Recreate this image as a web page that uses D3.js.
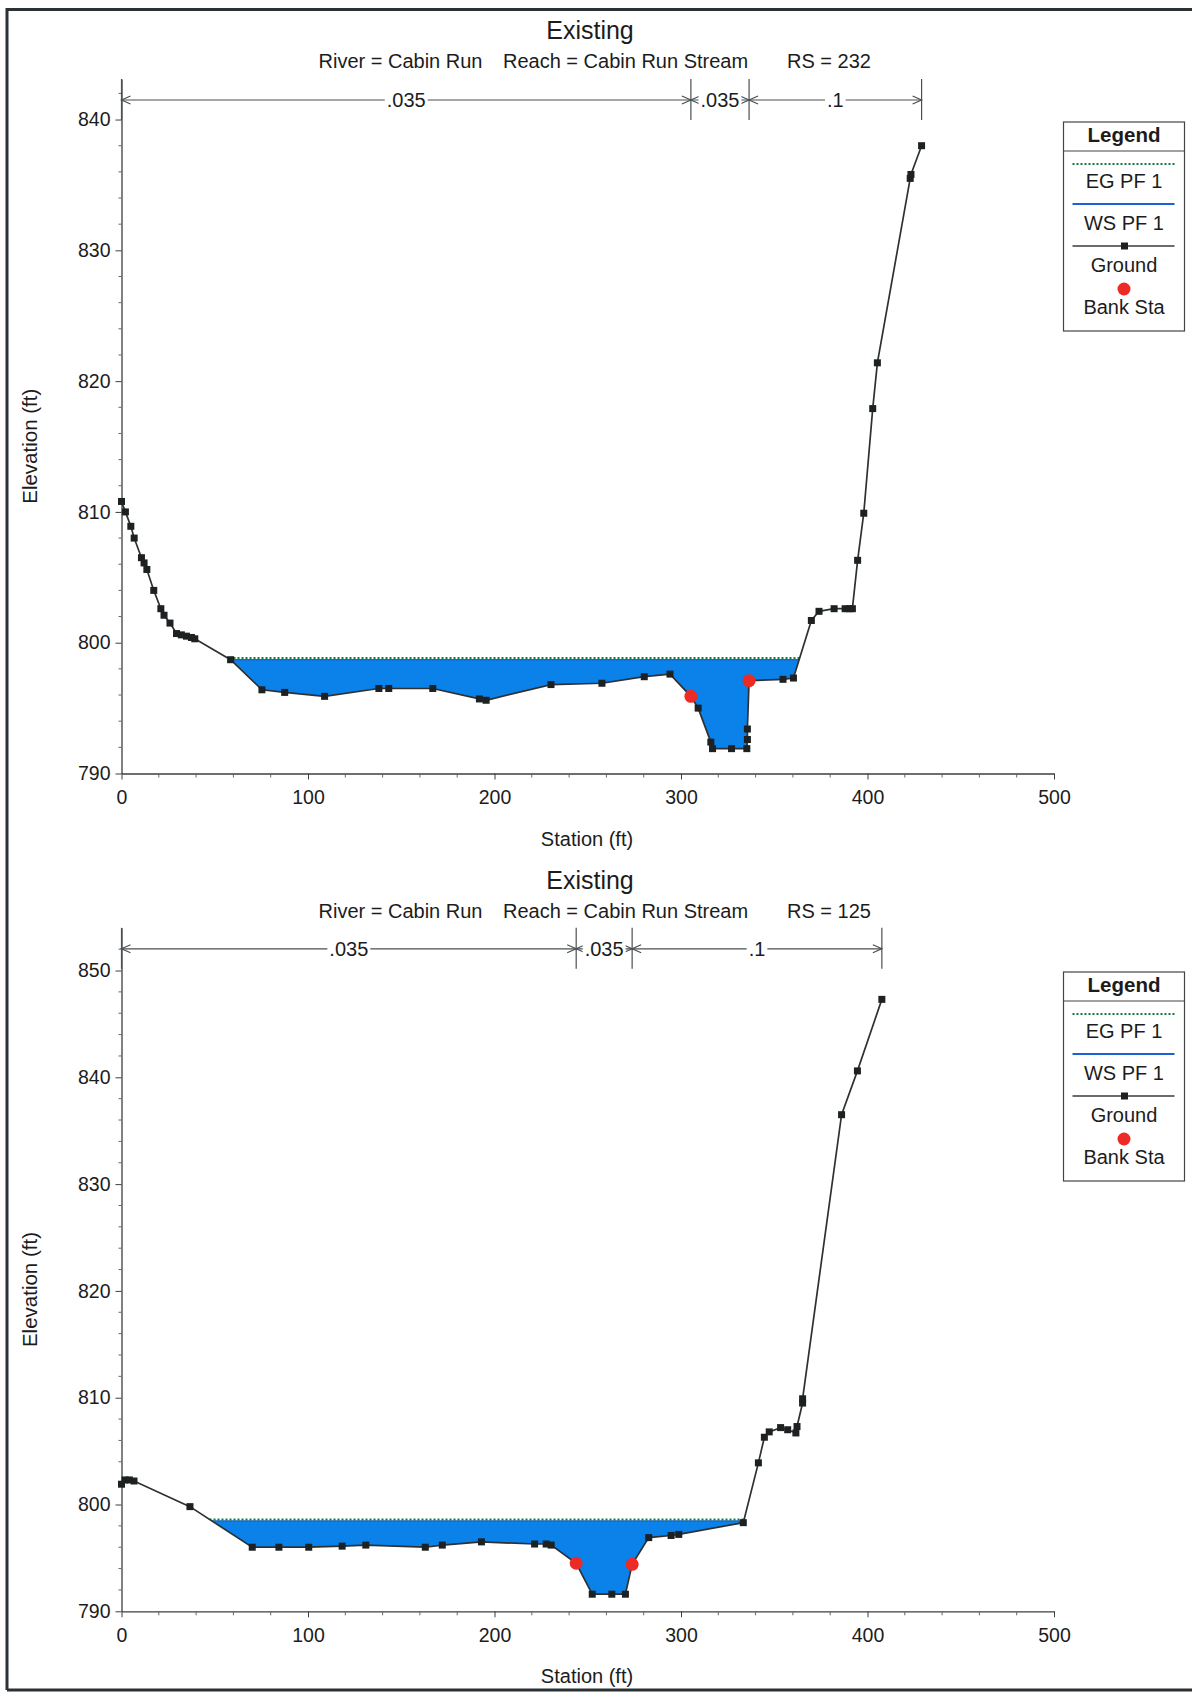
<!DOCTYPE html>
<html>
<head>
<meta charset="utf-8">
<script src="https://cdn.jsdelivr.net/npm/d3@7"></script>
<style>
  body { margin: 0; background: #fff; }
  text { font-family: "Liberation Sans", Arial, Helvetica, sans-serif; fill: #1c1c1c; }
</style>
</head>
<body>
<svg id="chart" width="1192" height="1693"></svg>
<script>
const titleText = "Existing"
const riverText = "River = Cabin Run"
const reachText = "Reach = Cabin Run Stream"
const rsLabels = ["RS = 232", "RS = 125"]

const xTicks = [0, 100, 200, 300, 400, 500]
const topYTicks = [790, 800, 810, 820, 830, 840]
const bottomYTicks = [790, 800, 810, 820, 830, 840, 850]

const nLabels = [".035", ".035", ".1"]
const legendLabels = ["EG PF 1", "WS PF 1", "Ground", "Bank Sta"]

// RS = 232
const topStation = [0, 2.1, 5.0, 6.8, 10.7, 12.1, 13.6, 17.3, 21.1, 22.8, 26.0, 29.5, 32.1, 34.8, 37.5,
  39.3, 58.5, 75.3, 87.5, 108.9, 138.0, 143.3, 166.9, 191.9, 195.5, 230.3, 257.6, 280.3, 294.1, 305.3,
  309.2, 316.0, 316.9, 327.1, 335.3, 335.6, 335.6, 336.5, 354.7, 360.3, 369.9, 374.0, 382.1, 388.0, 390.3,
  391.9, 394.7, 398.0, 402.8, 405.3, 422.9, 423.3, 429.0]
const topElevation = [810.8, 810.0, 808.9, 808.0, 806.5, 806.1, 805.6, 804.0, 802.6, 802.1, 801.5, 800.7, 800.6, 800.5, 800.4,
  800.3, 798.7, 796.4, 796.2, 795.9, 796.5, 796.5, 796.5, 795.7, 795.6, 796.8, 796.9, 797.4, 797.6, 795.9,
  795.0, 792.4, 791.9, 791.9, 791.9, 792.6, 793.4, 797.1, 797.2, 797.3, 801.7, 802.4, 802.6, 802.6, 802.6,
  802.6, 806.3, 809.9, 817.9, 821.4, 835.5, 835.8, 838.0]
const topBankStation = [305.3, 336.5]
const topBankElevation = [795.9, 797.1]
const topWS = 798.7
const topEG = 798.76
const topNBreaks = [0, 305.3, 336.5, 429.0]

// RS = 125
const bottomStation = [0, 1.9, 4.2, 6.7, 36.7, 70.1, 84.4, 100.4, 118.3, 131.0, 162.9, 172.0, 193.0, 221.5, 227.7,
  230.4, 243.8, 252.4, 262.9, 270.2, 273.8, 282.7, 294.7, 298.8, 333.4, 341.5, 344.7, 347.3, 353.4, 357.2,
  361.6, 362.2, 365.2, 365.2, 386.1, 394.6, 407.7]
const bottomElevation = [801.9, 802.3, 802.3, 802.2, 799.8, 796.0, 796.0, 796.0, 796.1, 796.2, 796.0, 796.2, 796.5, 796.3, 796.3,
  796.2, 794.5, 791.6, 791.6, 791.6, 794.4, 796.9, 797.1, 797.2, 798.3, 803.9, 806.3, 806.8, 807.2, 807.0,
  806.7, 807.3, 809.5, 809.9, 836.5, 840.6, 847.3]
const bottomBankStation = [243.8, 273.8]
const bottomBankElevation = [794.5, 794.4]
const bottomWS = 798.45
const bottomEG = 798.5
const bottomNBreaks = [0, 243.8, 273.8, 407.7]

let svg = d3.select("#chart")
let width = 1192, height = 1693

svg.append("rect").attr("width", width).attr("height", height).style("fill", "#fff")

// scanned page frame
svg.append("path")
  .attr("d", `M7,1690 L7,9.5 L${width},9.5 M7,1690 L${width},1690`)
  .style("fill", "none")
  .style("stroke", "#2b3236")
  .style("stroke-width", "3px")

let x = d3.scaleLinear().domain([0, 500]).range([121.5, 1054])

const waterColor = "#0a82ea"
const egColor = "#137a3c"
const wsColor = "#1a62d6"

function drawSection(opt) {
  let g = svg.append("g")
  let y = d3.scaleLinear().domain(opt.yDomain).range(opt.yRange)
  let yBase = opt.yRange[0], yTop = opt.yRange[1]
  let off = opt.offset
  let pts = opt.station.map((s, i) => [s, opt.elevation[i]])

  // titles
  g.append("text")
    .attr("x", 590).attr("y", off + 39)
    .attr("text-anchor", "middle")
    .style("font-size", "25px")
    .text(titleText)
  ;[[318.5, riverText], [503, reachText], [787, opt.rs]].forEach(function (d) {
    g.append("text")
      .attr("x", d[0]).attr("y", off + 68)
      .style("font-size", "20px")
      .text(d[1])
  })

  // water: everything below WS that sits above the ground
  let clipId = "above-ground-" + opt.id
  let polyPts = pts.map(p => [x(p[0]), y(p[1])])
  polyPts.push([x(pts[pts.length - 1][0]), yTop], [x(pts[0][0]), yTop])
  g.append("clipPath").attr("id", clipId)
    .append("polygon")
    .attr("points", polyPts.map(p => p.join(",")).join(" "))

  let water = g.append("g").attr("clip-path", `url(#${clipId})`)
  water.append("rect")
    .attr("x", x(0)).attr("width", x(500) - x(0))
    .attr("y", y(opt.ws)).attr("height", yBase - y(opt.ws))
    .style("fill", waterColor)
  water.append("line")
    .attr("x1", x(0)).attr("x2", x(500))
    .attr("y1", y(opt.ws)).attr("y2", y(opt.ws))
    .style("stroke", wsColor).style("stroke-width", "1.5px")
  water.append("line")
    .attr("x1", x(0)).attr("x2", x(500))
    .attr("y1", y(opt.eg) - 1).attr("y2", y(opt.eg) - 1)
    .style("stroke", egColor).style("stroke-width", "2px")
    .style("stroke-dasharray", "2,2")

  // axes
  let xAxis = d3.axisBottom(x)
    .tickValues(xTicks)
    .tickSize(6)
    .tickSizeOuter(0)
    .tickPadding(11)
  let yAxis = d3.axisLeft(y)
    .tickValues(opt.yTicks)
    .tickSize(6)
    .tickSizeOuter(0)
    .tickPadding(5)
    .tickFormat(d3.format("d"))

  let xg = g.append("g").attr("transform", `translate(0,${yBase})`).call(xAxis)
  let yg = g.append("g").attr("transform", `translate(${x(0)},0)`).call(yAxis)
  ;[xg, yg].forEach(function (a) {
    a.select(".domain").style("stroke", "#3a3f42").style("stroke-width", "1.3px")
    a.selectAll(".tick line").style("stroke", "#3a3f42")
    a.selectAll(".tick text").style("font-size", "19.5px").style("fill", "#1c1c1c")
      .style("font-family", "'Liberation Sans', Arial, sans-serif")
  })

  // minor ticks
  g.append("g").selectAll("line")
    .data(d3.range(20, 500, 20).filter(v => v % 100 !== 0))
    .join("line")
    .attr("x1", d => x(d)).attr("x2", d => x(d))
    .attr("y1", yBase).attr("y2", yBase + 4)
    .style("stroke", "#666")
  g.append("g").selectAll("line")
    .data(d3.range(opt.yTicks[0] + 2, opt.yDomain[1], 2).filter(v => v % 10 !== 0))
    .join("line")
    .attr("x1", x(0) - 3).attr("x2", x(0))
    .attr("y1", d => y(d)).attr("y2", d => y(d))
    .style("stroke", "#666")

  // axis titles
  g.append("text")
    .attr("x", 587).attr("y", yBase + 72)
    .attr("text-anchor", "middle")
    .style("font-size", "20px")
    .text("Station (ft)")
  g.append("text")
    .attr("transform", `translate(37,${(yBase + yTop) / 2 + 20}) rotate(-90)`)
    .attr("text-anchor", "middle")
    .style("font-size", "20.5px")
    .text("Elevation (ft)")

  // Manning's n brackets
  let yArrow = yTop + 21
  let br = g.append("g").style("stroke", "#4a4f52").style("stroke-width", "1.2px").style("fill", "none")
  opt.nBreaks.forEach(function (b) {
    br.append("line")
      .attr("x1", x(b)).attr("x2", x(b))
      .attr("y1", yTop).attr("y2", yTop + 41)
  })
  nLabels.forEach(function (lab, i) {
    let x1 = x(opt.nBreaks[i]), x2 = x(opt.nBreaks[i + 1])
    br.append("line").attr("x1", x1).attr("x2", x2).attr("y1", yArrow).attr("y2", yArrow)
    br.append("path").attr("d", `M${x1 + 9},${yArrow - 4} L${x1},${yArrow} L${x1 + 9},${yArrow + 4}`)
    br.append("path").attr("d", `M${x2 - 9},${yArrow - 4} L${x2},${yArrow} L${x2 - 9},${yArrow + 4}`)
    let t = g.append("text")
      .attr("x", (x1 + x2) / 2).attr("y", yArrow + 7)
      .attr("text-anchor", "middle")
      .style("font-size", "20px")
      .text(lab)
    let w = t.node().getComputedTextLength()
    g.insert("rect", () => t.node())
      .attr("x", (x1 + x2) / 2 - w / 2 - 2).attr("width", w + 4)
      .attr("y", yArrow - 8).attr("height", 16)
      .style("fill", "#fff")
  })

  // ground line and points
  let line = d3.line().x(d => x(d[0])).y(d => y(d[1]))
  g.append("path")
    .attr("d", line(pts))
    .style("fill", "none")
    .style("stroke", "#2e3133")
    .style("stroke-width", "1.7px")
  g.append("g").selectAll("rect")
    .data(pts)
    .join("rect")
    .attr("x", d => x(d[0]) - 3.5).attr("y", d => y(d[1]) - 3.5)
    .attr("width", 7).attr("height", 7)
    .style("fill", "#1e2122")

  // bank stations
  g.append("g").selectAll("circle")
    .data(opt.bankStation.map((s, i) => [s, opt.bankElevation[i]]))
    .join("circle")
    .attr("cx", d => x(d[0])).attr("cy", d => y(d[1]))
    .attr("r", 6.5)
    .style("fill", "#ec2a26")

  // legend
  let lg = g.append("g").attr("transform", `translate(1063.5,${off + 122})`)
  lg.append("rect").attr("width", 121).attr("height", 209)
    .style("fill", "#fff").style("stroke", "#444").style("stroke-width", "1.2px")
  lg.append("text").attr("x", 60.5).attr("y", 20).attr("text-anchor", "middle")
    .style("font-size", "20.5px").style("font-weight", "bold").text("Legend")
  lg.append("line").attr("x1", 0).attr("x2", 121).attr("y1", 29).attr("y2", 29)
    .style("stroke", "#444").style("stroke-width", "1.2px")
  lg.append("line").attr("x1", 9).attr("x2", 111).attr("y1", 42).attr("y2", 42)
    .style("stroke", egColor).style("stroke-width", "2px").style("stroke-dasharray", "2,2")
  lg.append("line").attr("x1", 9).attr("x2", 111).attr("y1", 82).attr("y2", 82)
    .style("stroke", wsColor).style("stroke-width", "2px")
  lg.append("line").attr("x1", 9).attr("x2", 111).attr("y1", 124).attr("y2", 124)
    .style("stroke", "#3a3a3a").style("stroke-width", "1.4px")
  lg.append("rect").attr("x", 57.5).attr("y", 120.5).attr("width", 7).attr("height", 7)
    .style("fill", "#1e2122")
  lg.append("circle").attr("cx", 60.5).attr("cy", 167).attr("r", 6.5).style("fill", "#ec2a26")
  ;[66, 108, 150, 192].forEach(function (ty, i) {
    lg.append("text").attr("x", 60.5).attr("y", ty).attr("text-anchor", "middle")
      .style("font-size", "20px").text(legendLabels[i])
  })
}

drawSection({
  id: "rs232", offset: 0, rs: rsLabels[0],
  station: topStation, elevation: topElevation,
  bankStation: topBankStation, bankElevation: topBankElevation,
  ws: topWS, eg: topEG, nBreaks: topNBreaks,
  yTicks: topYTicks, yDomain: [790, 843.1], yRange: [773.5, 79]
})

drawSection({
  id: "rs125", offset: 850, rs: rsLabels[1],
  station: bottomStation, elevation: bottomElevation,
  bankStation: bottomBankStation, bankElevation: bottomBankElevation,
  ws: bottomWS, eg: bottomEG, nBreaks: bottomNBreaks,
  yTicks: bottomYTicks, yDomain: [790, 854], yRange: [1611.3, 927.8]
})
</script>
</body>
</html>
